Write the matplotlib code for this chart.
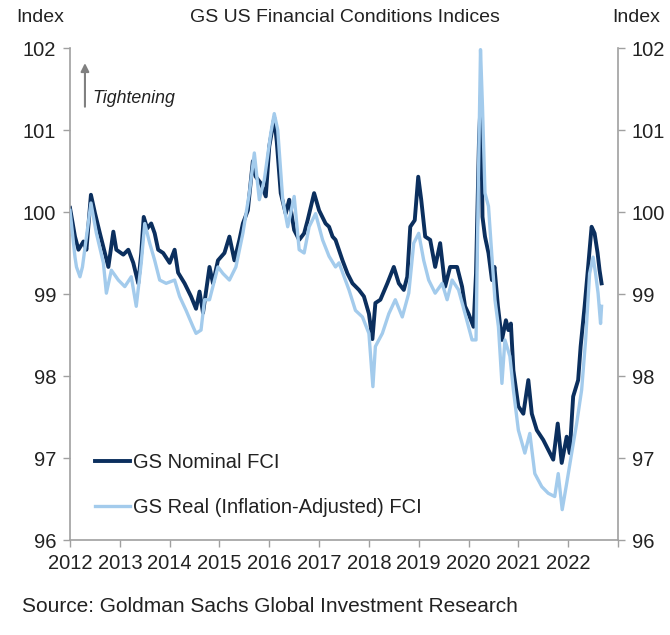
import numpy as np
import matplotlib
matplotlib.use("Agg")
import matplotlib.pyplot as plt

plt.rcParams["font.family"] = ["Liberation Sans", "DejaVu Sans"]

# GS Nominal FCI (decimal year, index level)
nominal_t = [
    2012.00, 2012.10, 2012.17, 2012.27, 2012.33, 2012.42, 2012.50, 2012.60, 2012.70, 2012.77,
    2012.87, 2012.93, 2013.07, 2013.17, 2013.27, 2013.37, 2013.43, 2013.48, 2013.55, 2013.63,
    2013.70, 2013.77, 2013.87, 2014.00, 2014.10, 2014.17, 2014.30, 2014.43, 2014.53, 2014.60,
    2014.67, 2014.80, 2014.87, 2014.97, 2015.10, 2015.20, 2015.30, 2015.40, 2015.47, 2015.57,
    2015.67, 2015.73, 2015.83, 2015.93, 2016.00, 2016.10, 2016.15, 2016.23, 2016.33, 2016.40,
    2016.50, 2016.60, 2016.70, 2016.77, 2016.90, 2017.00, 2017.13, 2017.20, 2017.27, 2017.33,
    2017.47, 2017.57, 2017.67, 2017.80, 2017.90, 2018.00, 2018.07, 2018.13, 2018.23, 2018.37,
    2018.50, 2018.60, 2018.70, 2018.77, 2018.83, 2018.92, 2018.99, 2019.05, 2019.13, 2019.23,
    2019.33, 2019.43, 2019.53, 2019.63, 2019.77, 2019.87, 2019.93, 2020.00, 2020.10, 2020.15,
    2020.21, 2020.25, 2020.28, 2020.33, 2020.40, 2020.47, 2020.52, 2020.59, 2020.67, 2020.75,
    2020.80, 2020.85, 2020.90, 2021.00, 2021.10, 2021.20, 2021.27, 2021.37, 2021.50, 2021.60,
    2021.70, 2021.79, 2021.87, 2021.97, 2022.03, 2022.10, 2022.20, 2022.25, 2022.33, 2022.40,
    2022.47, 2022.53, 2022.59, 2022.63, 2022.67,
]
nominal_v = [
    100.05, 99.70, 99.54, 99.64, 99.54, 100.21, 99.99, 99.74, 99.50, 99.33,
    99.76, 99.54, 99.48, 99.54, 99.38, 99.13, 99.50, 99.94, 99.80, 99.86,
    99.74, 99.54, 99.50, 99.38, 99.54, 99.26, 99.13, 98.97, 98.82, 99.03,
    98.77, 99.33, 99.13, 99.41, 99.50, 99.70, 99.41, 99.66, 99.86, 100.02,
    100.62, 100.43, 100.35, 100.19, 100.80, 101.15, 100.86, 100.23, 99.98, 100.15,
    99.78, 99.66, 99.74, 99.90, 100.23, 100.02, 99.86, 99.82, 99.70, 99.66,
    99.41, 99.25, 99.13, 99.05, 98.97, 98.76, 98.45, 98.89, 98.93, 99.13,
    99.33, 99.13, 99.05, 99.21, 99.82, 99.90, 100.43, 100.15, 99.70, 99.66,
    99.33, 99.62, 99.09, 99.33, 99.33, 99.09, 98.85, 98.76, 98.60, 99.25,
    100.88, 101.45, 99.94, 99.70, 99.50, 99.17, 99.33, 98.85, 98.44, 98.68,
    98.56, 98.64, 98.07, 97.63, 97.54, 97.95, 97.54, 97.34, 97.22, 97.10,
    96.98, 97.42, 96.94, 97.26, 97.06, 97.75, 97.95, 98.36, 98.85, 99.33,
    99.82, 99.74, 99.50, 99.29, 99.13,
]

# GS Real (Inflation-Adjusted) FCI
real_t = [
    2012.00, 2012.10, 2012.13, 2012.20, 2012.25, 2012.42, 2012.53, 2012.67, 2012.73, 2012.83,
    2012.97, 2013.10, 2013.23, 2013.33, 2013.43, 2013.50, 2013.60, 2013.70, 2013.80, 2013.93,
    2014.10, 2014.20, 2014.33, 2014.47, 2014.53, 2014.63, 2014.70, 2014.80, 2014.97, 2015.07,
    2015.20, 2015.33, 2015.47, 2015.60, 2015.70, 2015.80, 2015.90, 2016.03, 2016.10, 2016.17,
    2016.27, 2016.37, 2016.50, 2016.60, 2016.70, 2016.80, 2016.93, 2017.07, 2017.20, 2017.33,
    2017.40, 2017.60, 2017.73, 2017.87, 2018.00, 2018.08, 2018.13, 2018.27, 2018.40, 2018.53,
    2018.67, 2018.80, 2018.90, 2019.00, 2019.10, 2019.20, 2019.33, 2019.47, 2019.57, 2019.67,
    2019.80, 2019.93, 2020.07, 2020.15, 2020.20, 2020.24, 2020.28, 2020.33, 2020.40, 2020.47,
    2020.53, 2020.60, 2020.67, 2020.73, 2020.83, 2020.90, 2021.00, 2021.13, 2021.23, 2021.33,
    2021.47, 2021.60, 2021.73, 2021.80, 2021.88, 2021.97, 2022.07, 2022.17, 2022.27, 2022.35,
    2022.43, 2022.50, 2022.55, 2022.60, 2022.65, 2022.67,
]
real_v = [
    100.02, 99.45, 99.33, 99.21, 99.33, 100.11, 99.74, 99.38, 99.01, 99.29,
    99.17, 99.09, 99.21, 98.85, 99.38, 99.86, 99.62, 99.41, 99.17, 99.13,
    99.17, 98.97, 98.80, 98.60, 98.52, 98.56, 98.93, 98.93, 99.33, 99.25,
    99.17, 99.33, 99.74, 100.23, 100.72, 100.15, 100.39, 100.96, 101.20, 101.00,
    100.15, 99.82, 100.19, 99.54, 99.50, 99.82, 99.98, 99.66, 99.46, 99.33,
    99.38, 99.05, 98.80, 98.72, 98.52, 97.87, 98.36, 98.52, 98.76, 98.93,
    98.72, 99.01, 99.62, 99.74, 99.41, 99.17, 99.01, 99.13, 98.93, 99.17,
    99.05, 98.76, 98.44, 98.44, 100.47, 101.98, 101.28, 100.23, 100.07, 99.45,
    98.93, 98.60, 97.91, 98.44, 98.24, 97.83, 97.34, 97.06, 97.30, 96.81,
    96.65, 96.57, 96.53, 96.81, 96.37, 96.69, 97.06, 97.42, 97.83, 98.44,
    99.25, 99.45, 99.25, 99.01, 98.64, 98.85,
]

years = list(range(2012, 2023))
y_ticks = [96, 97, 98, 99, 100, 101, 102]

dark = "#0b2f5e"
light = "#a3cbec"
spine_c = "#a0a0a0"
txt_c = "#222222"

fig = plt.figure(figsize=(6.7, 6.35), dpi=100)
ax = fig.add_axes([70 / 670, 95 / 635, 548 / 670, 492 / 635])

ax.plot(nominal_t, nominal_v, color=dark, lw=2.8, label="GS Nominal FCI", zorder=2)
ax.plot(real_t, real_v, color=light, lw=2.4, label="GS Real (Inflation-Adjusted) FCI", zorder=3)

ax.set_xlim(2012, 2023)
ax.set_ylim(96, 102)
ax.set_xticks(years + [2023])
ax.set_xticklabels([str(y) for y in years] + [""])
ax.set_yticks(y_ticks)
ax.set_yticklabels([str(v) for v in y_ticks])

for s in ["left", "right", "bottom"]:
    ax.spines[s].set_color(spine_c)
    ax.spines[s].set_linewidth(1.2)
ax.spines["top"].set_visible(False)

ax.tick_params(axis="both", direction="out", length=5, width=1, color=spine_c,
               labelsize=14.5, labelcolor=txt_c, pad=5)
ax.tick_params(axis="y", right=True, labelright=True)

# tightening arrow
ax.annotate("", xy=(2012.3, 101.85), xytext=(2012.3, 101.25),
            arrowprops=dict(arrowstyle="-|>", color="#808080", lw=1.5, mutation_scale=12))
ax.text(2012.45, 101.38, "Tightening", fontsize=12.8, style="italic", color=txt_c,
        va="center", ha="left")

leg = ax.legend(loc="upper left", bbox_to_anchor=(0.046, 0.176), frameon=False,
                fontsize=14.5, handlelength=1.75, handletextpad=0.12, labelspacing=1.25,
                borderpad=0, borderaxespad=0)
for t in leg.get_texts():
    t.set_color(txt_c)

fig.text(40 / 670, 1 - 18 / 635, "Index", fontsize=14, ha="center", va="center", color=txt_c)
fig.text(636 / 670, 1 - 18 / 635, "Index", fontsize=14, ha="center", va="center", color=txt_c)
fig.text(345 / 670, 1 - 18 / 635, "GS US Financial Conditions Indices", fontsize=14,
         ha="center", va="center", color=txt_c)
fig.text(22 / 670, 1 - 607 / 635, "Source: Goldman Sachs Global Investment Research",
         fontsize=15, ha="left", va="center", color=txt_c)

fig.savefig("out.png", dpi=100)
